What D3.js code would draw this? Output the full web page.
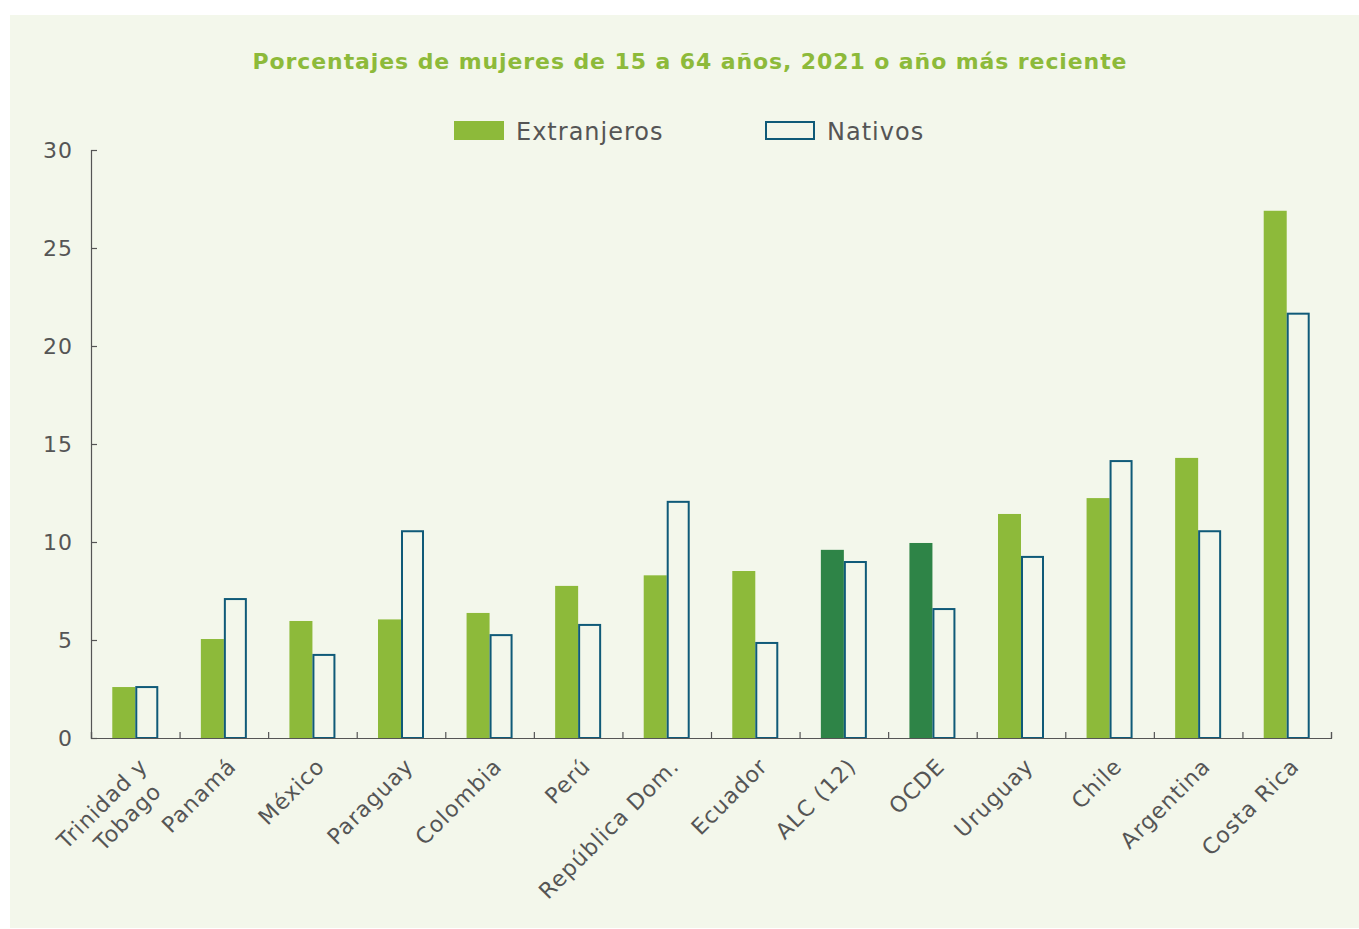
<!DOCTYPE html>
<html>
<head>
<meta charset="utf-8">
<style>
body { margin: 0; background: #ffffff; }
svg text { font-family: "DejaVu Sans", sans-serif; }
.axis path, .axis line { stroke: #555555; stroke-width: 1.2; }
.axis text { fill: #555555; font-size: 22px; letter-spacing: 1px; }
.lab { fill: #555555; font-size: 22px; letter-spacing: 1px; }
</style>
</head>
<body>
<svg width="1359" height="929"></svg>
<script src="https://d3js.org/d3.v7.min.js"></script>
<script>
// data
var paises = ["Trinidad y|Tobago", "Panamá", "México", "Paraguay", "Colombia", "Perú",
  "República Dom.", "Ecuador", "ALC (12)", "OCDE", "Uruguay", "Chile", "Argentina", "Costa Rica"];
var extranjeros = [2.6, 5.05, 5.97, 6.05, 6.38, 7.76, 8.3, 8.52, 9.6, 9.95, 11.43, 12.24, 14.29, 26.9];
var nativos = [2.65, 7.14, 4.29, 10.6, 5.3, 5.82, 12.1, 4.9, 9.03, 6.63, 9.29, 14.18, 10.6, 21.7];
var agregados = ["ALC (12)", "OCDE"];
var yTicks = [0, 5, 10, 15, 20, 25, 30];

var svg = d3.select("svg");

svg.append("rect")
    .attr("x", 10).attr("y", 15)
    .attr("width", 1349).attr("height", 913)
    .attr("fill", "#f3f7eb");

var m = {left: 91, right: 1331, top: 150, bottom: 738};

var x = d3.scaleBand().domain(paises).range([m.left, m.right]).padding(0);
var xi = d3.scaleLinear().domain([0, paises.length]).range([m.left, m.right]);
var y = d3.scaleLinear().domain([0, 30]).range([m.bottom, m.top]);

var bw = 23;

svg.append("text")
    .attr("x", 690).attr("y", 69)
    .attr("text-anchor", "middle")
    .style("font-size", "22px")
    .style("font-weight", "bold")
    .style("letter-spacing", "0.9px")
    .attr("fill", "#8dba3a")
    .text("Porcentajes de mujeres de 15 a 64 años, 2021 o año más reciente");

// legend
svg.append("rect").attr("x", 454).attr("y", 121).attr("width", 50).attr("height", 19).attr("fill", "#8dba3a");
svg.append("text").attr("class", "lab").attr("x", 516).attr("y", 140).style("font-size", "24px").text("Extranjeros");
svg.append("rect").attr("x", 766).attr("y", 122).attr("width", 48).attr("height", 17)
    .attr("fill", "none").attr("stroke", "#0f5a78").attr("stroke-width", 2);
svg.append("text").attr("class", "lab").attr("x", 827).attr("y", 140).style("font-size", "24px").text("Nativos");

// bars
var g = svg.append("g");
g.selectAll(".ext").data(paises).enter().append("rect")
    .attr("class", "ext")
    .attr("x", function(d) { return x(d) + x.bandwidth() / 2 - bw; })
    .attr("y", function(d, i) { return y(extranjeros[i]); })
    .attr("width", bw)
    .attr("height", function(d, i) { return m.bottom - y(extranjeros[i]); })
    .attr("fill", function(d) { return agregados.indexOf(d) >= 0 ? "#2e8447" : "#8dba3a"; });

g.selectAll(".nat").data(paises).enter().append("rect")
    .attr("class", "nat")
    .attr("x", function(d) { return x(d) + x.bandwidth() / 2 + 1; })
    .attr("y", function(d, i) { return y(nativos[i]) + 1; })
    .attr("width", bw - 2)
    .attr("height", function(d, i) { return m.bottom - y(nativos[i]) - 1; })
    .attr("fill", "none")
    .attr("stroke", "#0f5a78")
    .attr("stroke-width", 2);

// axes
svg.append("g")
    .attr("class", "axis")
    .attr("transform", "translate(" + m.left + ",0)")
    .call(d3.axisLeft(y).tickValues(yTicks).tickSize(-6).tickPadding(18))
    .call(function(s) { s.selectAll("text").attr("dy", "0.35em"); });

svg.append("g")
    .attr("class", "axis")
    .attr("transform", "translate(0," + m.bottom + ")")
    .call(d3.axisBottom(xi).ticks(paises.length).tickSize(-6).tickFormat(""));

// x labels
var labs = svg.append("g").selectAll("text").data(paises).enter().append("text")
    .attr("class", "lab")
    .attr("text-anchor", "end")
    .attr("transform", function(d) {
      return "translate(" + (x(d) + x.bandwidth() / 2 + 2) + "," + (m.bottom + 18) + ") rotate(-45)";
    });
labs.each(function(d) {
  var parts = d.split("|");
  var t = d3.select(this);
  parts.forEach(function(p, k) {
    t.append("tspan").attr("x", k * -8).attr("y", 0).attr("dy", (k * 1.25 + 0.75) + "em").text(p);
  });
});
</script>
</body>
</html>
